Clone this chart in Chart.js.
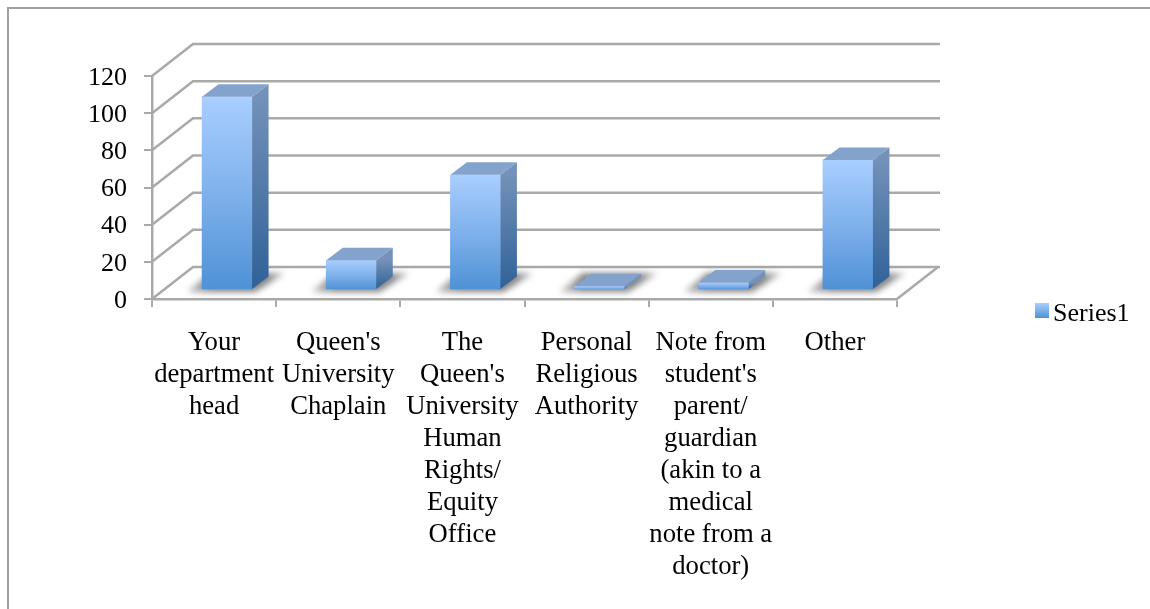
<!DOCTYPE html>
<html><head><meta charset="utf-8">
<style>html,body{margin:0;padding:0;background:#fff;overflow:hidden}#w{position:relative;width:1150px;height:609px}</style>
<script src="https://cdn.jsdelivr.net/npm/chart.js@4"></script>
</head><body><div id="w"><canvas id="c" width="1150" height="609"></canvas></div>
<script>
const categories = [
  ["Your","department","head"],
  ["Queen's","University","Chaplain"],
  ["The","Queen's","University","Human","Rights/","Equity","Office"],
  ["Personal","Religious","Authority"],
  ["Note from","student's","parent/","guardian","(akin to a","medical","note from a","doctor)"],
  ["Other"]
];
const series1 = [104, 16, 62, 2, 4, 70];
const seriesName = "Series1";
const yTicks = [0,20,40,60,80,100,120];

const FONT = "'Liberation Serif','Times New Roman',serif";
const FS = 26.67;
const GRID = '#a9a9a9';
const DX = 41, DY = -32;        // depth of the walls
const BX = 13, BY = -9;         // bar front plane inside the depth
const SX = 16.5, SY = -12.5;    // depth of a bar

function frontGrad(ctx, top, bot){
  const g = ctx.createLinearGradient(0, top, 0, bot);
  g.addColorStop(0, '#a9ceff'); g.addColorStop(0.5,'#7fb1ec'); g.addColorStop(1, '#4e91d5');
  return g;
}
function line(ctx,x1,y1,x2,y2){ctx.beginPath();ctx.moveTo(x1,y1);ctx.lineTo(x2,y2);ctx.stroke();}

const box3d = {
  id:'box3d',
  beforeLayout(chart){
    const lg = chart.legend;
    if(lg && !lg._patched){
      const f = lg.fit;
      lg.fit = function(){ f.call(this); this.width = 253; };
      lg._patched = true;
    }
  },
  afterLayout(chart){
    const lg = chart.legend;
    lg.left = 1040; lg.right = 1150; lg.top = 301; lg.bottom = 333;
  },
  beforeDraw(chart){
    const c = chart.ctx;
    c.save();
    c.fillStyle='#fff'; c.fillRect(0,0,1150,609);
    c.fillStyle='#a0a0a0';
    c.fillRect(7,7,1143,2); c.fillRect(7,7,2,602);
    c.restore();
  },
  beforeDatasetsDraw(chart){
    const c = chart.ctx, y = chart.scales.y, a = chart.chartArea;
    c.save();
    c.strokeStyle = GRID; c.lineWidth = 2.5;
    yTicks.forEach(v=>{
      const p = y.getPixelForValue(v);
      line(c,a.left,p,a.left+DX,p+DY);
      line(c,a.left+DX-1,p+DY,a.right+DX+2,p+DY);
    });
    const p0 = y.getPixelForValue(0);
    line(c,a.right,p0,a.right+DX,p0+DY);
    // floor shadows
    const meta = chart.getDatasetMeta(0);
    c.filter = 'blur(3px)';
    meta.data.forEach(b=>{
      const L = b.x+BX-b.width/2, R = b.x+BX+b.width/2, Y = b.base+BY;
      const g = c.createLinearGradient(L-16,0,R+34,0);
      g.addColorStop(0,'rgba(70,70,70,.3)');
      g.addColorStop(.25,'rgba(50,50,50,.6)');
      g.addColorStop(.8,'rgba(50,50,50,.6)');
      g.addColorStop(1,'rgba(70,70,70,.3)');
      c.fillStyle = g;
      c.beginPath();
      c.moveTo(L-15,Y+3); c.lineTo(R+3,Y+3); c.lineTo(R+33,Y-16); c.lineTo(L+8,Y-16);
      c.closePath(); c.fill();
    });
    c.restore();
  },
  beforeDatasetDraw(chart){
    chart.ctx.save();
    chart.ctx.translate(BX,BY);
  },
  afterDatasetDraw(chart,args){
    const c = chart.ctx;
    args.meta.data.forEach(b=>{
      const L = b.x-b.width/2, R = b.x+b.width/2, T = b.y, B = b.base;
      const g = c.createLinearGradient(0,T,0,B);
      g.addColorStop(0,'#7391b9'); g.addColorStop(1,'#2f6197');
      c.fillStyle = g;
      c.beginPath();
      c.moveTo(R,T); c.lineTo(R+SX,T+SY); c.lineTo(R+SX,B+SY); c.lineTo(R,B);
      c.closePath(); c.fill();
      c.fillStyle = '#84a3cc';
      c.beginPath();
      c.moveTo(L,T); c.lineTo(L+SX,T+SY); c.lineTo(R+SX,T+SY); c.lineTo(R,T);
      c.closePath(); c.fill();
    });
    c.restore();
  },
  afterDraw(chart){
    const c = chart.ctx;
    c.save();
    c.fillStyle = frontGrad(c,303,318);
    c.fillRect(1035,303,14,15);
    c.restore();
  }
};

new Chart(document.getElementById('c'),{
  type:'bar',
  data:{labels:categories,datasets:[{
    label:seriesName,
    data:series1,
    barThickness:50,
    borderWidth:0,
    clip:false,
    backgroundColor(ctx){
      const chart = ctx.chart;
      if(!chart.chartArea || ctx.dataIndex===undefined) return '#7fb1ec';
      const y = chart.scales.y;
      return frontGrad(chart.ctx, y.getPixelForValue(series1[ctx.dataIndex]), y.getPixelForValue(0));
    }
  }]},
  options:{
    responsive:false,animation:false,
    layout:{padding:{left:0,top:76,right:0,bottom:0}},
    plugins:{
      tooltip:{enabled:false},
      legend:{
        display:true,position:'right',align:'start',
        labels:{
          boxWidth:0,boxHeight:14,padding:0,color:'#000',
          font:{family:FONT,size:26},
          generateLabels(){return [{text:seriesName,fillStyle:'rgba(0,0,0,0)',strokeStyle:'rgba(0,0,0,0)',lineWidth:0,fontColor:'#000',datasetIndex:0}];}
        }
      }
    },
    scales:{
      x:{
        afterFit(s){s.height = 310;},
        border:{display:true,color:GRID,width:2.5},
        grid:{drawOnChartArea:false,drawTicks:true,tickLength:8,color:GRID,lineWidth:2,offset:true},
        ticks:{
          color:'#000',font:{family:FONT,size:FS,lineHeight:32/FS},
          maxRotation:0,minRotation:0,autoSkip:false,padding:20
        }
      },
      y:{
        min:0,max:120,
        afterFit(s){s.width = 152;},
        border:{display:true,color:GRID,width:2.5},
        grid:{drawOnChartArea:false,drawTicks:true,tickLength:8,color:GRID,lineWidth:2},
        afterBuildTicks(s){s.ticks = yTicks.map(v=>({value:v}));},
        ticks:{color:'#000',font:{family:FONT,size:26},padding:17,labelOffset:2}
      }
    }
  },
  plugins:[box3d]
});
</script></body></html>
